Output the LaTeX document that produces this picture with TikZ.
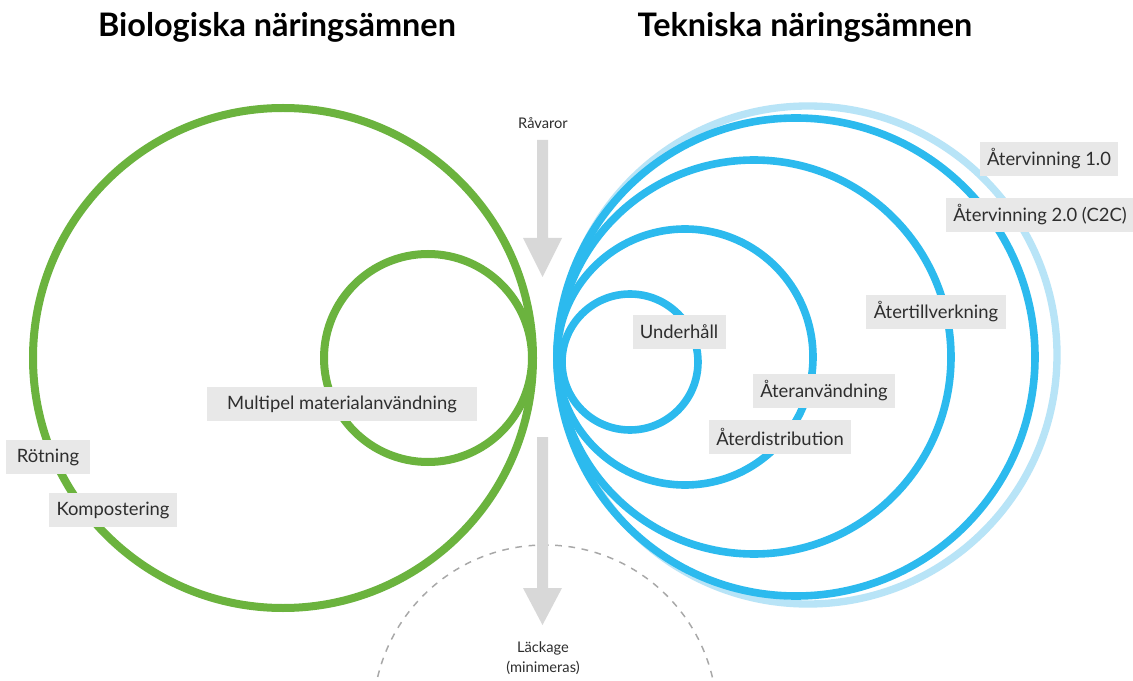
\documentclass[tikz,border=0pt]{standalone}
\usepackage{fontspec}
\setmainfont{Lato}
\definecolor{grn}{HTML}{6BB33E}
\definecolor{blu}{HTML}{2CBAEE}
\definecolor{lblu}{HTML}{B8E4F7}
\definecolor{lblbg}{HTML}{E8E8E8}
\definecolor{txt}{HTML}{2E2E2E}
\definecolor{arr}{HTML}{D8D8D8}
\definecolor{dash}{HTML}{A8A8A8}
\tikzset{
  gcirc/.style={draw=grn, line width=6pt},
  bcirc/.style={draw=blu, line width=5.7pt},
  lcirc/.style={draw=lblu, line width=5.5pt},
  lbl/.style={fill=lblbg, text=txt, font=\fontsize{13.8}{15}\selectfont, inner xsep=5.5pt, inner ysep=0pt, minimum height=26pt},
  ttl/.style={font=\bfseries\fontsize{24.3}{28}\selectfont, text=black, anchor=base, inner sep=0pt},
  smalltxt/.style={font=\fontsize{11}{15}\selectfont, text=txt, align=center, inner sep=0pt},
  grayarrow/.style={fill=arr, draw=none},
  leak/.style={draw=dash, line width=1.1pt, dash pattern=on 5pt off 5pt}
}
\begin{document}
\begin{tikzpicture}[x=0.75pt,y=-0.75pt]
\useasboundingbox (0,0) rectangle (1133,681);
\fill[white] (0,0) rectangle (1133,681);
% leakage boundary
\begin{scope}
\clip (0,0) rectangle (1133,681);
\draw[leak] (545,717) circle[radius=129pt];
\end{scope}
% titles
\node[ttl] (tbio) at (277,37) {Biologiska näringsämnen};
\node[ttl] (ttek) at (805,37) {Tekniska näringsämnen};
% green cycles
\draw[gcirc] (283,358) circle[radius=187.5pt];
\draw[gcirc] (428,358) circle[radius=78pt];
% blue cycles
\draw[lcirc] (808,355) circle[radius=186.75pt];
\draw[bcirc] (796,357) circle[radius=179.25pt];
\draw[bcirc] (754,357) circle[radius=147.75pt];
\draw[bcirc] (685,357) circle[radius=96pt];
\draw[bcirc] (630,362) circle[radius=51pt];
% arrows
\fill[grayarrow] (537,140) -- (548,140) -- (548,238) -- (562,238) -- (542.5,277) -- (523,238) -- (537,238) -- cycle;
\fill[grayarrow] (537,437) -- (548,437) -- (548,588) -- (562,588) -- (542.5,625) -- (523,588) -- (537,588) -- cycle;
\node[smalltxt] (rav) at (543,123) {Råvaror};
\node[smalltxt] (lack) at (543,658) {Läckage\\(minimeras)};
% labels
\node[lbl, inner xsep=15pt] (mult) at (342,404) {Multipel materialanvändning};
\node[lbl, inner xsep=8pt] (rot) at (48,457) {Rötning};
\node[lbl] (komp) at (113,510) {Kompostering};
\node[lbl] (und) at (679,332) {Underhåll};
\node[lbl] (atanv) at (824,391) {Återanvändning};
\node[lbl] (atdis) at (780,437) {Återdistribution};
\node[lbl] (attill) at (936,312) {Återtillverkning};
\node[lbl] (atv2) at (1040,215) {Återvinning 2.0 (C2C)};
\node[lbl] (atv1) at (1049,159) {Återvinning 1.0};
\end{tikzpicture}
\end{document}
